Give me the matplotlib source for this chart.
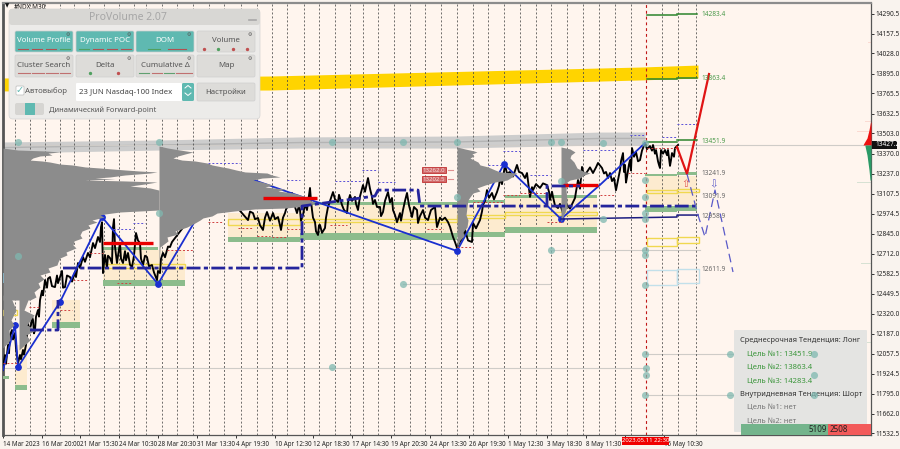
import matplotlib
matplotlib.use("Agg")
import matplotlib.pyplot as plt
from matplotlib.patches import FancyBboxPatch, Rectangle
from matplotlib.transforms import Affine2D

plt.rcParams['font.family'] = ['Noto Sans', 'DejaVu Sans']

# ---------- data: x = bar position on the time axis, y = price ----------
ytick_vals = [14290.5,14157.5,14028.0,13895.0,13765.5,13632.5,13503.0,13370.0,13237.0,13107.5,12974.5,
              12845.0,12712.0,12582.5,12449.5,12320.0,12187.0,12057.5,11924.5,11795.0,11662.0,11532.5]
xtick_pos = [3,42,80,119,158,197,236,275,313,352,391,430,469,508,547,586,625,664]
xtick_lab = ["14 Mar 2023","16 Mar 20:00","21 Mar 15:30","24 Mar 10:30","28 Mar 20:30","31 Mar 13:30",
             "4 Apr 19:30","10 Apr 12:30","12 Apr 18:30","17 Apr 14:30","19 Apr 20:30","24 Apr 13:30",
             "26 Apr 19:30","1 May 12:30","3 May 18:30","8 May 11:30","","15 May 10:30"]
vgrid = [15,30,45,60,74,89,104,119,134,146,162,177,193,209,224,241,257,272,287,304,319,335,350,363,378,
         394,410,425,441,457,473,488,504,520,536,551,567,583,599,615,631,662,678,696]
vgrid_red = 646

price_path = [(3,11949),(4,12010),(5,12048),(6,11990),(8,12114),(9,12060),(10,12179),(12,12212),(13,12150),(15,12192),(16,12090),(18,11995),
 (20,12048),(21,12020),(23,12081),(24,12050),(26,12114),(27,12180),(28,12265),(29,12200),(31,12245),(32,12300),(33,12278),(34,12190),(35,12212),(36,12300),(38,12343),(39,12300),(40,12409),
 (42,12470),(43,12440),(45,12540),(47,12490),(48,12550),(50,12560),(52,12500),(55,12494),(57,12570),(58,12520),(60,12560),(62,12600),(63,12490),(65,12494),(67,12570),
 (70,12560),(72,12530),(75,12593),(76,12560),(78,12652),(80,12620),(83,12691),(85,12660),(88,12718),(90,12690),(93,12783),(95,12750),(98,12823),(100,12790),(101,12888),(102,12920),(103,12586),(104,12650),(105,12705),(107,12620),(108,12700),(110,12685),
 (112,12650),(113,12888),(114,12940),(115,12760),(117,12652),(118,12700),(120,12783),(121,12680),(123,12652),(125,12730),(126,12670),(128,12718),(130,12640),(132,12626),(134,12700),(136,12849),(138,12800),(140,12783),(141,12680),(143,12639),(145,12700),(147,12691),
 (149,12630),(152,12639),(154,12590),(157,12540),(158,12600),(160,12586),(161,12680),(163,12718),(165,12690),(168,12760),(170,12757),(172,12790),(175,12816),(185,12902),(195,12967),(205,13033),(220,13033),
 (235,13033),(248,12934),(250,12990),(253,12980),(255,12940),(258,12948),(260,12900),(263,12869),(265,12950),(267,12987),(270,12930),(273,12980),(275,12940),(278,12954),(280,12900),(281,12869),(283,12950),(285,12980),(288,13050),(292,13112),(294,13040),
 (297,12980),(299,13030),(300,13000),(301,12930),(303,12967),(305,13040),(307,13000),(310,13145),(311,13060),(312,13000),(313,12950),(315,12921),(316,12860),(318,12836),(319,12900),(320,12902),(322,12850),(325,12882),(326,12950),(328,13020),(330,13060),
 (333,13118),(335,13070),(338,13053),(339,13100),(342,13033),(344,13000),(347,12980),(348,13050),(350,13099),(352,13060),(355,13086),(356,13040),(358,13000),(360,13090),(363,13164),(365,13120),(368,13210),(370,13140),(372,13086),(373,13040),
 (375,13066),(377,13020),(380,13020),(381,12960),(383,12987),(385,13060),(388,13118),(390,13050),(392,13079),(393,13000),(395,12967),(397,12920),(400,12980),(401,12930),(403,13000),(405,13060),(407,13112),(409,13030),(412,12954),(414,13020),
 (417,13000),(418,12915),(420,12960),(423,13000),(425,12950),(428,12934),(431,13000),(435,13020),(436,12950),(437,12888),(440,12950),(442,12934),(445,12950),(448,12921),(450,12890),(453,12823),(455,12790),(457,12751),
 (459,12780),(463,12823),(465,12870),(468,12800),(472,12790),(473,12915),(476,12880),(480,12934),(482,12990),(483,13033),(485,13060),(487,13131),(489,13080),(492,13112),(494,13070),(497,13118),(499,13160),(500,13210),(502,13170),(505,13296),
 (507,13240),(510,13250),(513,13220),(517,13296),(519,13250),(522,13243),(525,13210),(527,13243),(529,13140),(530,13086),(532,13150),(533,13131),(536,13170),(540,13145),(543,13175),(547,13164),(549,13120),(550,13066),(552,13120),(553,13086),
 (555,13030),(558,13013),(560,13040),(563,12980),(565,13010),(567,13033),(570,13010),(575,13079),(576,13120),(578,13197),(580,13140),(582,13283),(584,13230),(587,13250),(590,13280),(593,13243),(596,13280),(598,13309),(602,13276),
 (604,13240),(606,13250),(608,13210),(610,13243),(612,13190),(614,13210),(616,13130),(617,13164),(620,13263),(621,13320),(623,13374),(624,13250),(625,13296),(626,13180),(627,13217),(629,13300),(630,13328),(631,13260),(632,13407),
 (634,13350),(636,13381),(638,13320),(640,13328),(642,13390),(645,13440),(647,13400),(650,13420),(652,13390),(653,13427),(655,13370),(656,13394),(658,13320),(659,13296),(660,13276),(661,13394),(663,13370),(665,13394),
 (667,13360),(668,13394),(670,13290),(671,13328),(672,13374),(674,13350),(675,13407),(678,13427)]
price_x, price_y = zip(*price_path)

zig_x = [3,15,18,60,102,158,225,457,504,561,600,645]
zig_y = [11949,12245,11969,12396,12954,12514,13263,12731,13302,12941,13165,13440]
red_x = [677,687,709]
red_y = [13414,13237,13893]
fc_x = [687,698,705,715,733]
fc_y = [13237,12967,12823,13131,12593]

yellow_x = [3,270,640,698]
yellow_top = [13867,13880,13939,13952]
yellow_bot = [13782,13788,13854,13867]
grey_x = [3,160,300,457,600,645]
grey_top = [13447,13460,13480,13486,13512,13512]
grey_bot = [13374,13394,13407,13407,13427,13427]
grey_mid = [13410,13427,13443,13447,13470,13470]

# profiles: price row and right edge of the histogram
p0a_y = [12442,12409,12343,12278,12245,12212,12146,12094]
p0a_r = [3,12,16,11,14,9,10,3]
p0b_y = [12475,12409,12343,12311,12245,12212,12179,12146,12081]
p0b_r = [19,28,24,34,27,36,26,30,19]
p1_y = [13407,13394,13388,13381,13374,13361,13355,13342,13328,13322,13315,13302,13296,13283,13276,13263,13256,13250,13243,
        13230,13217,13210,13204,13197,13191,13184,13171,13158,13145,13131,13000,12987,12974,12967,12954,12934,12921,12902,
        12882,12862,12836,12816,12797,12770,12751,12724,12705,12685,12659,12639,12619,12593,12573,12547,12521,12494,12462,
        12429,12409]
p1_r = [3,18,45,60,48,52,40,33,30,42,50,60,72,85,100,125,140,157,150,125,110,95,115,85,125,157,145,130,150,159,159,120,
        105,100,104,92,97,88,90,82,80,82,74,73,76,66,67,60,58,57,48,50,40,44,38,40,34,36,30]
p2_y = [13420,13407,13394,13381,13368,13355,13342,13328,13322,13309,13296,13283,13276,13263,13250,13243,13230,13217,13210,
        13197,13184,13164,13151,13138,13125,13112,13099,13086,13066,13046,13026,13013,13007,12994,12980,12961,12948,12934,
        12915,12888,12862,12842,12823,12797,12757,12606]
p2_r = [159,168,180,193,185,178,173,182,195,207,212,222,228,236,245,267,272,280,262,253,262,273,265,285,278,293,300,306,
        310,315,306,285,255,235,217,212,203,200,195,187,175,178,167,168,160,159]
p3_y = [13414,13401,13388,13381,13368,13355,13342,13328,13315,13296,13283,13263,13250,13243,13230,13217,13197,13184,13164,
        13145,13125,13112,13086,13066,13020,12967,12934,12888,12856,12829,12803,12751]
p3_r = [457,465,474,477,472,474,470,474,478,480,488,495,500,517,514,512,507,495,485,477,480,473,470,468,467,466,468,467,
        463,464,460,457]
p4_y = [13414,13401,13381,13361,13342,13315,13276,13256,13243,13230,13210,13197,13184,13131,13066,13020,12987,12954,12921]
p4_r = [561,570,575,571,570,574,577,583,590,584,580,570,567,566,567,567,565,563,561]

orange_boxes = [(15,27,12114,11851),(52,80,12409,12265),(103,185,12737,12540),(228,300,12980,12823),
                (300,457,13033,12849),(457,505,13033,12856),(505,597,13079,12888),(645,697,13223,13033)]
green_boxes = [(3,9,11910,11890),(15,27,11851,11818),(52,80,12265,12225),(103,158,12757,12737),(103,185,12540,12501),
               (228,300,12823,12790),(300,457,12849,12803),(457,505,12856,12823),(505,597,12888,12849),
               (300,457,13053,13033),(457,505,13066,13046),(505,597,13099,13079),
               (645,677,13237,13223),(677,697,13250,13230),(645,677,13026,12987),(677,697,13033,12993)]
yellow_boxes = [(3,17,12343,12310),(103,185,12646,12620),(228,300,12941,12902),(300,457,12941,12921),
                (457,505,12967,12948),(505,597,12987,12967),(647,677,13131,13112),(677,699,13138,13118),
                (647,677,12816,12764),(677,699,12823,12783)]
blue_boxes = [(647,677,12606,12507),(677,699,12613,12521)]
cyan_boxes = [(3,18,12586,12521)]

navy_x = [30,58,58,None,63,302,302,375,378,418,420,695,None,547,547,580]
navy_y = [12212,12212,12409,None,12619,12619,13026,13092,13131,13131,13026,13026,None,13026,13158,13158]
navy_thin_x = [561,677,677,698]
navy_thin_y = [12941,12954,12967,12967]
red_levels = [(103,153,12783),(263,317,13079),(561,598,13164)]

purple_segs = [(208,240,13309),(113,133,12875),(133,145,12915),(287,300,13197),(362,378,13263),(335,363,13190),
               (378,395,13184),(503,520,13388),(488,503,13296),(530,550,13230),(583,597,13394),(630,646,13493),
               (662,677,13480),(677,695,13565),(600,615,13394)]
dred_segs = [(90,103,12718),(208,223,12921),(238,253,12882),(257,270,12829),(272,287,12823),(287,300,12875),
             (117,132,12521),(167,193,12737),(73,88,12540),(330,347,12902),(427,443,12875),(457,473,12757),
             (473,503,13053),(503,520,13099),(520,547,13112),(547,563,12921),(628,645,13243),(600,615,13099),
             (647,677,13407),(29,40,12363),(60,72,12343),(3,18,11995)]

level_lines = [(3,871,13427),(550,700,12737),(645,814,12054),(645,814,11785),(3,646,11962),(403,550,12514)]
dot_x = [18,159,332,403,457,551,561,645,159,457,561,551,403,18,332,603,603,645,645,645,645,645,645,645,645,646,646,645,730,730,814,814,814]
dot_y = [13447,13447,13447,13447,13447,13447,13447,13440,12980,13086,13190,12737,12514,12698,11969,13440,12941,
         13197,13086,12980,12941,12737,12705,12507,12054,11962,11917,11785,12054,11785,12054,11917,11785]

tgt_green = [(647,677,14280),(677,697,14290),(647,677,13860),(677,697,13867),(647,677,13447),(677,697,13460)]
tgt_text = [(14283.4,"14283.4","#4c9a4c"),(13863.4,"13863.4","#4c9a4c"),(13451.9,"13451.9","#4c9a4c"),
            (13241.9,"13241.9","#666666"),(13091.9,"13091.9","#666666"),(12958.9,"12958.9","#666666"),(12611.9,"12611.9","#666666")]

dom_red = [(13951,23),(13867,8),(13611,20),(13670,6),(13539,53),(13500,24),(13473,28),(13460,30),(13447,53),(13435,26),(13515,14),(13580,6),(14100,3)]
dom_green = [(13296,53),(13374,28),(13355,22),(13335,18),(13315,24),(13276,20),(13250,16),(13230,22),(13210,10),(13180,14),(13112,10),
             (12954,130),(12803,24),(12960,8),(12650,10),(12258,24),(11962,10),(11641,24),(12130,5)]
dom_red_y = [13578,13526,13473,13440,13427]
dom_red_w = [0.5,2,4,7,8]
dom_grn_y = [13427,13420,13361,13263,13197]
dom_grn_w = [6,6,4,2,1]
last_price = 13427.2

sell_vol, buy_vol = 2508, 5109

# ---------- figure ----------
fig = plt.figure(figsize=(9,4.49), dpi=100, facecolor='#f9f3ee')
ax = fig.add_axes([3/900, (449-435)/449, 868/900, 432/449], facecolor='#fff5ee')
ax.set_xlim(3,871); ax.set_ylim(11522.6,14359.5)
PX = Affine2D().scale(1,-1).translate(0,449)

for v in vgrid:
    ax.axvline(v, color='#484848', lw=0.55, ls=(0,(2.6,2.6)), zorder=2.5)
ax.axvline(vgrid_red, color='#c01818', lw=0.8, ls=(0,(2.6,2.6)), zorder=2.5)

ax.fill_between(yellow_x, yellow_bot, yellow_top, color='#ffd400', lw=0, zorder=2)
ax.fill_between(grey_x, grey_bot, grey_top, color='#cdcdcd', lw=0, zorder=2)
ax.plot(grey_x, grey_mid, color='#b4b4b4', lw=1, zorder=2)
for x0,x1,y in level_lines:
    ax.plot([x0,x1],[y,y],color='#cfccc8',lw=0.8,zorder=2)

def boxes(items, **kw):
    for x0,x1,a,b in items:
        ax.add_patch(Rectangle((x0,min(a,b)),x1-x0,abs(a-b),**kw))
boxes(orange_boxes, fc='#fdebcf', ec='none', zorder=2)
boxes(green_boxes, fc='#8cbc8c', ec='none', zorder=3)
boxes(yellow_boxes, fc='none', ec='#f0d850', lw=1, zorder=3)
boxes(blue_boxes, fc='none', ec='#c2e0ea', lw=1, zorder=3)
boxes(cyan_boxes, fc='#7fd0f0', ec='none', zorder=3)

ax.plot(price_x, price_y, color='black', lw=1.35, zorder=4)
ax.plot(zig_x,zig_y,color='#1a2fd0',lw=1.3,zorder=4.5)
ax.scatter([15,18,60,102,158,457,504,561],[12245,11969,12396,12954,12514,12731,13302,12941],s=15,color='#1a2fd0',zorder=4.6)

for ys,rs,b in [(p0a_y,p0a_r,3),(p0b_y,p0b_r,19),(p1_y,p1_r,3),(p2_y,p2_r,159),(p3_y,p3_r,457),(p4_y,p4_r,561)]:
    ax.fill_betweenx(ys,[b]*len(ys),rs,color='#8c8c8c',lw=0,zorder=5)

for x0,x1,y in purple_segs:
    ax.plot([x0,x1],[y,y],color='#5a50d8',lw=0.7,ls=(0,(2,2)),zorder=6)
for x0,x1,y in dred_segs:
    ax.plot([x0,x1],[y,y],color='#d04040',lw=0.7,ls=(0,(2,2)),zorder=6)
for x0,x1,y in red_levels:
    ax.plot([x0,x1],[y,y],color='#e80000',lw=2.4,solid_capstyle='butt',zorder=6)

nx=[v if v is not None else float('nan') for v in navy_x]; ny=[v if v is not None else float('nan') for v in navy_y]
ax.plot(nx,ny,color='#24249c',lw=2,ls=(0,(5,1.2,1.5,1.2)),zorder=6)
ax.plot(navy_thin_x,navy_thin_y,color='#1c1c80',lw=1.1,zorder=6)

ax.plot(red_x,red_y,color='#e01414',lw=1.6,zorder=8)
ax.plot(fc_x,fc_y,color='#5a5ac8',lw=0.9,ls=(0,(7,4)),zorder=8)
ax.text(686,13171,'⇧',color='#e05050',fontsize=7.5,ha='center',va='center',family='DejaVu Sans',zorder=8)
ax.text(714,13171,'⇩',color='#5a5ac8',fontsize=7.5,ha='center',va='center',family='DejaVu Sans',zorder=8)

for x0,x1,y in tgt_green:
    ax.plot([x0,x1],[y,y],color='#2c842c',lw=1.1,zorder=8)
for p,s,c in tgt_text:
    ax.text(701,p,s,color=c,fontsize=4.7,va='center',ha='left',zorder=9)
for p,s in [(13262,"13262.0"),(13202.5,"13202.5")]:
    ax.text(434,p,s,color='#f6dcdc',fontsize=4.4,ha='center',va='center',zorder=9,
            bbox=dict(fc='#d26a6a',ec='#c03030',lw=.6,boxstyle='square,pad=0.12'))
    ax.plot([448,453],[p,p],color='#e09090',lw=.8,zorder=9)

# depth of market
for y,w in dom_red:
    ax.barh(y,w,left=871-w,height=3,color='#f08c80',alpha=.25,lw=0,zorder=6)
for y,w in dom_green:
    ax.barh(y,w,left=871-w,height=3,color='#70b090' if w<100 else '#c8c8c4',alpha=.28,lw=0,zorder=6)
ax.fill_betweenx(dom_red_y,[871-w for w in dom_red_w],871,color='#ee1010',lw=0,zorder=6)
ax.fill_betweenx(dom_grn_y,[871-w for w in dom_grn_w],871,color='#2a9a66',lw=0,zorder=6)

# axes
ax.set_yticks(ytick_vals); ax.set_yticklabels([f"{v:.1f}" for v in ytick_vals])
ax.yaxis.tick_right()
ax.set_xticks(xtick_pos); ax.set_xticklabels(xtick_lab, ha='left')
ax.tick_params(axis='y',labelsize=4.7,length=2.5,width=.7,color='#333333',labelcolor='#222222',pad=.8)
ax.tick_params(axis='x',labelsize=4.5,length=2.5,width=.7,color='#333333',labelcolor='#222222',pad=1.5)
for k,s in ax.spines.items():
    s.set_color('#555555'); s.set_linewidth(.9)
ax.spines['left'].set_linewidth(2); ax.spines['top'].set_color('#8c8c8c'); ax.spines['top'].set_linewidth(1.6)

def T(x,y,s,**kw):
    kw.setdefault('va','center'); kw.setdefault('zorder',32)
    return ax.text(x,y,s,transform=PX,clip_on=False,**kw)
def R(x0,y0,x1,y1,fc,ec='none',z=30,rad=1.5,lw=.5,alpha=1):
    p=FancyBboxPatch((x0,y0),x1-x0,y1-y0,boxstyle=f"round,pad=0,rounding_size={rad}",fc=fc,ec=ec,lw=lw,
                     transform=PX,clip_on=False,zorder=z,alpha=alpha)
    ax.add_patch(p)
def L(xs,ys,c,lw=1,z=33):
    ax.plot(xs,ys,color=c,lw=lw,transform=PX,clip_on=False,zorder=z)

T(14,7,"#NDX,M30",fontsize=4.6,color='#111111',zorder=9)
T(5,6,"▼",fontsize=4,color='#111111',zorder=9,family='DejaVu Sans')

# control panel
R(9,9,260,119,'#ecebe9',ec='#d4d4d4',z=30,rad=4)
R(9,9,260,25,'#d8d7d4',z=31,rad=3)
T(128,17.5,"ProVolume 2.07",fontsize=7.5,color='#a6a6a6',ha='center')
L([249,256],[20,20],'#a8a8a8',1.2)
TEAL='#5fb9b1'; BTN='#dddcd9'
btns=[(15,31,73,52,"Volume Profile",1),(76,31,134,52,"Dynamic POC",1),(136,31,194,52,"DOM",1),(197,31,255,52,"Volume",0),
      (15,55,73,77,"Cluster Search",0),(76,55,134,77,"Delta",0),(136,55,194,77,"Cumulative Δ",0),(197,55,255,77,"Map",0)]
for x0,y0,x1,y1,s,on in btns:
    R(x0,y0,x1,y1,TEAL if on else BTN,ec='#cfcfcf',z=31)
    T((x0+x1)/2,(y0+y1)/2-.5,s,fontsize=5.7,color='white' if on else '#555555',ha='center')
    T(x1-5,y0+3,"⚙",fontsize=3.5,color='#555555',ha='center',family='DejaVu Sans')
for x0,y,x1,c in [(18,49,28,'#b05050'),(32,49,42,'#b05050'),(46,49,56,'#b05050'),(60,49,70,'#50a060'),
                  (79,49,89,'#50a060'),(93,49,103,'#b05050'),(107,49,117,'#b05050'),(121,49,131,'#b05050'),
                  (148,49,160,'#50a060'),(168,49,186,'#b05050'),(18,73,30,'#c07070'),(32,73,44,'#c07070'),(46,73,58,'#c07070'),(60,73,70,'#c07070'),
                  (139,73,149,'#60a070'),(152,73,162,'#c07070'),(164,73,174,'#60a070'),(176,73,192,'#c07070')]:
    L([x0,x1],[y,y],c,.8)
for x,c in [(204,'#c05050'),(218,'#50a060'),(233,'#c05050'),(247,'#c05050')]:
    ax.scatter([x],[49],s=2,color=c,transform=PX,clip_on=False,zorder=33)
for x,c in [(90,'#50a060'),(118,'#c05050')]:
    ax.scatter([x],[73],s=2,color=c,transform=PX,clip_on=False,zorder=33)
R(16,86,24,95,'white',ec='#bbbbbb',z=31,rad=1)
T(20,89.5,"✓",fontsize=7,color=TEAL,ha='center',family='DejaVu Sans')
T(25,91,"Автовыбор",fontsize=5.6,color='#555555')
R(76,83,182,101,'white',z=31,rad=1)
T(79,92,"23 JUN Nasdaq-100 Index",fontsize=5.6,color='#444444')
R(182,83,194,101,TEAL,z=31,rad=1.5)
L([185,188,191],[88,85.5,88],'white',.7); L([185,188,191],[93,95.5,93],'white',.7)
R(197,83,255,101,BTN,ec='#cfcfcf',z=31)
T(226,92,"Настройки",fontsize=5.6,color='#555555',ha='center')
R(15,103,44,115,'#d6d5d2',z=31,rad=2); R(25,103,35,115,TEAL,z=32,rad=.5)
T(49,110,"Динамический Forward-point",fontsize=5.4,color='#555555')

# info panel
R(734,330,867,432,'#e4e4e2',z=20,rad=1)
T(740,341,"Среднесрочная Тенденция: Лонг",fontsize=5.35,color='#333333',zorder=22)
T(747,354.5,"Цель №1: 13451.9",fontsize=5.5,color='#3c963c',zorder=22)
T(747,367.5,"Цель №2: 13863.4",fontsize=5.5,color='#3c963c',zorder=22)
T(747,381,"Цель №3: 14283.4",fontsize=5.5,color='#3c963c',zorder=22)
T(740,394,"Внутридневная Тенденция: Шорт",fontsize=5.35,color='#333333',zorder=22)
T(747,407.5,"Цель №1: нет",fontsize=5.5,color='#777777',zorder=22)
T(747,421,"Цель №2: нет",fontsize=5.5,color='#777777',zorder=22)
ax.add_patch(Rectangle((741,423.5),87,11.5,fc='#74b48c',ec='none',transform=PX,clip_on=False,zorder=23))
ax.add_patch(Rectangle((828,423.5),43,11.5,fc='#f25a5a',ec='none',transform=PX,clip_on=False,zorder=23))
T(827,430,str(buy_vol),fontsize=5.8,color='#222222',ha='right',zorder=24)
T(829.5,430,str(sell_vol),fontsize=5.8,color='#222222',ha='left',zorder=24)

ax.scatter(dot_x,dot_y,s=26,color='#7fb8b0',alpha=.75,lw=0,zorder=25)

# current price tag and selected-date tag
ax.add_patch(Rectangle((872,141),25,7.5,fc='#111111',ec='none',transform=PX,clip_on=False,zorder=31))
T(875,145,f"{last_price:.1f}",fontsize=4.7,color='white',ha='left')
ax.add_patch(Rectangle((622,437),47,8,fc='#f00000',ec='none',transform=PX,clip_on=False,zorder=31))
T(645.5,441,"2023.05.11 22:30",fontsize=4.3,color='white',ha='center')

fig.savefig("out.png",dpi=100,facecolor=fig.get_facecolor())
